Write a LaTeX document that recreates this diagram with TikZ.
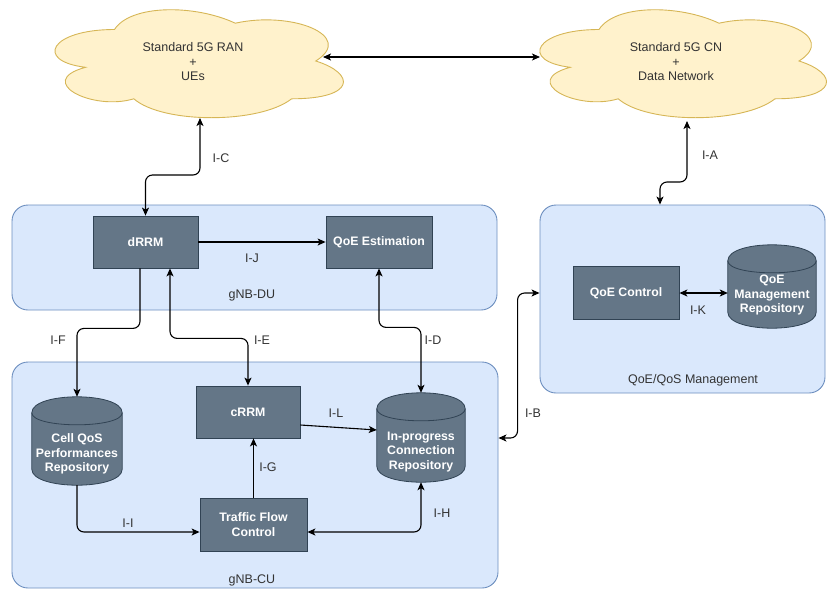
\documentclass[tikz,border=0pt]{standalone}
\usepackage{fontspec}
\setmainfont{Liberation Sans}
\usetikzlibrary{arrows.meta,calc}
\pgfdeclarelayer{bg}
\pgfdeclarelayer{mid}
\pgfsetlayers{bg,mid,main}
\definecolor{contfill}{HTML}{DAE8FC}
\definecolor{contline}{HTML}{6C8EBF}
\definecolor{darkfill}{HTML}{647687}
\definecolor{darkline}{HTML}{314354}
\definecolor{cloudfill}{HTML}{FFF2CC}
\definecolor{cloudline}{HTML}{D6B656}
\definecolor{labtext}{HTML}{333333}
\newcommand\mycloud[4]{%
  \begin{scope}[shift={(#1,#2)}, xscale=#3, yscale=#4]
  \draw[cloudsty] (0.25,0.25) .. controls (0.05,0.25) and (0,0.5) .. (0.16,0.55)
    .. controls (0,0.66) and (0.18,0.9) .. (0.31,0.8)
    .. controls (0.4,1) and (0.7,1) .. (0.8,0.8)
    .. controls (1,0.8) and (1,0.6) .. (0.875,0.5)
    .. controls (1,0.3) and (0.8,0.1) .. (0.625,0.2)
    .. controls (0.5,0.05) and (0.3,0.05) .. (0.25,0.25) -- cycle;
  \end{scope}}
\newcommand\mycyl[1]{%
  \begin{pgfonlayer}{mid}
  \draw[cylsty] ($(#1.north west)+(0,16)$) .. controls ($(#1.north west)+(0,-5.33)$) and ($(#1.north east)+(0,-5.33)$) .. ($(#1.north east)+(0,16)$)
    -- ($(#1.south east)+(0,-16)$) .. controls ($(#1.south east)+(0,5.33)$) and ($(#1.south west)+(0,5.33)$) .. ($(#1.south west)+(0,-16)$) -- cycle;
  \draw[cylsty, fill=none] ($(#1.north west)+(0,16)$) .. controls ($(#1.north west)+(0,32)$) and ($(#1.north east)+(0,32)$) .. ($(#1.north east)+(0,16)$);
  \end{pgfonlayer}}
\begin{document}
\begin{tikzpicture}[x=1pt,y=-1pt,
  container/.style={draw=contline, fill=contfill, rounded corners=16pt, line width=0.9pt, inner sep=0pt},
  darkbox/.style={draw=darkline, fill=darkfill, line width=0.8pt, text=white, font=\fontsize{12.3}{14.5}\selectfont\bfseries, align=center, inner sep=0pt},
  cylnode/.style={inner sep=0pt, draw=none},
  cyltext/.style={inner sep=0pt, text=white, font=\fontsize{12.3}{14.5}\selectfont\bfseries, align=center},
  cylsty/.style={draw=darkline, fill=darkfill, line width=0.8pt},
  cloudsty/.style={draw=cloudline, fill=cloudfill, line width=0.9pt},
  lab/.style={text=labtext, font=\fontsize{12.5}{14.5}\selectfont, inner sep=1pt, align=center},
  conn/.style={line width=1.1pt, draw=black, rounded corners=7pt},
  tipend/.style={-{Stealth[length=8pt,width=7pt,inset=2pt]}},
  tipboth/.style={{Stealth[length=8pt,width=7pt,inset=2pt]}-{Stealth[length=8pt,width=7pt,inset=2pt]}},
  tipstart/.style={{Stealth[length=8pt,width=7pt,inset=2pt]}-}
]
\useasboundingbox (0,0) rectangle (827,590);

% containers
\begin{pgfonlayer}{bg}
\node[container, minimum width=485pt, minimum height=105pt] (du) at (254.5,257.5) {};
\node[container, minimum width=486pt, minimum height=226pt] (cu) at (255,475) {};
\node[container, minimum width=285pt, minimum height=188pt] (qosm) at (682.5,299) {};
\end{pgfonlayer}
\node[lab] (duL) at (252,295) {gNB-DU};
\node[lab] (cuL) at (252,580) {gNB-CU};
\node[lab] (qosmL) at (693,380) {QoE/QoS Management};

% clouds
\mycloud{34}{-2}{322}{126}
\mycloud{519}{-2}{320}{126}
\node[lab] (ran) at (193,62) {Standard 5G RAN\\+\\UEs};
\node[lab] (cn) at (676,62) {Standard 5G CN\\+\\Data Network};
\coordinate (ranE) at (323,57);
\coordinate (cnW) at (540,57);
\coordinate (ranS) at (200,118);
\coordinate (cnS) at (687,121);

% dark boxes
\node[darkbox, minimum width=105pt, minimum height=52pt] (drrm) at (145.5,242) {dRRM};
\node[darkbox, minimum width=106pt, minimum height=52pt] (qoee) at (379,242) {QoE Estimation};
\node[darkbox, minimum width=106pt, minimum height=53pt] (qoec) at (626,293) {QoE Control};
\node[darkbox, minimum width=104pt, minimum height=52pt] (crrm) at (248,412) {cRRM};
\node[darkbox, minimum width=107pt, minimum height=53pt] (tfc) at (253.5,524.5) {Traffic Flow\\Control};

% cylinders
\node[cylnode, minimum width=90pt, minimum height=88pt] (cell) at (77,441) {};
\mycyl{cell}
\node[cyltext] (cellT) at (77,454) {Cell QoS\\Performances\\Repository};
\node[cylnode, minimum width=88pt, minimum height=89pt] (inprog) at (421,437.5) {};
\mycyl{inprog}
\node[cyltext] (inprogT) at (421,452) {In-progress\\Connection\\Repository};
\node[cylnode, minimum width=88pt, minimum height=83pt] (repo) at (772,286.5) {};
\mycyl{repo}
\node[cyltext] (repoT) at (772,295) {QoE\\Management\\Repository};

% connectors
\draw[conn, tipboth] (ranE) -- (cnW);
\draw[conn, tipboth] (ranS) -- ++(0,57) -| (drrm.north);
\draw[conn, tipboth] (cnS) -- ++(0,61) -| ([xshift=-22.5pt]qosm.north);
\draw[conn, tipend] (drrm.east) -- (qoee.west);
\draw[conn, tipend] ([xshift=-5.5pt]drrm.south) -- ++(0,60) -| (cell.north);
\draw[conn, tipboth] ([xshift=24.5pt]drrm.south) -- ++(0,70) -| (crrm.north);
\draw[conn, tipboth] (qoee.south) -- ++(0,59) -| (inprog.north);
\draw[conn, tipend] ([yshift=-13pt]crrm.east) -- ([yshift=7.5pt]inprog.west);
\draw[conn, tipend] (tfc.north) -- (tfc.north |- crrm.south);
\draw[conn, tipend] (cell.south) |- ([yshift=-7.5pt]tfc.west);
\draw[conn, tipboth] ([yshift=-7.5pt]tfc.east) -| (inprog.south);
\draw[conn, tipboth] ([yshift=6pt]qosm.west) -- ++(-22,0) |- ([yshift=37pt]cu.east);
\draw[conn, tipboth] (qoec.east) -- (qoec.east -| repo.west);

% connector labels
\node[lab] (lC) at (221,158) {I-C};
\node[lab] (lA) at (710,155) {I-A};
\node[lab] (lJ) at (252,258) {I-J};
\node[lab] (lF) at (58,340) {I-F};
\node[lab] (lE) at (262,340) {I-E};
\node[lab] (lD) at (433,340) {I-D};
\node[lab] (lL) at (336,413) {I-L};
\node[lab] (lG) at (268,467) {I-G};
\node[lab] (lI) at (128,523) {I-I};
\node[lab] (lH) at (442,513) {I-H};
\node[lab] (lB) at (533,413) {I-B};
\node[lab] (lK) at (698,310) {I-K};
\end{tikzpicture}
\end{document}
